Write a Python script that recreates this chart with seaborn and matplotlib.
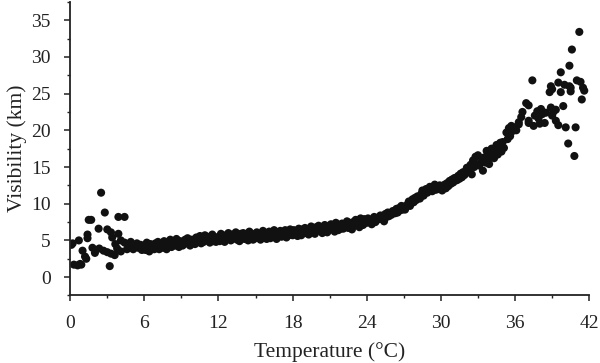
import numpy as np
import pandas as pd
import seaborn as sns
import matplotlib.pyplot as plt
from matplotlib.ticker import MultipleLocator

# %% Data (temperature in °C, visibility in km)

# cold end, scattered points
temp_cold = [0.1, 0.2, 0.3, 0.6, 0.7, 0.8, 0.9, 1.0, 1.2, 1.3, 1.4, 1.4, 1.5, 1.7,
             1.8, 2.0, 2.3, 2.35, 2.5, 2.7, 2.8, 3.0, 3.0, 3.2, 3.3, 3.3, 3.4, 3.6,
             3.65, 3.8, 3.9, 3.9, 4.1, 4.1, 4.4, 4.4, 4.6, 4.7, 4.9, 5.1, 5.2, 5.4,
             5.5, 5.7, 5.8]
vis_cold = [4.4, 4.6, 1.7, 1.6, 5.0, 1.8, 1.7, 3.6, 2.8, 2.5, 5.8, 5.3, 7.8, 7.8,
            4.0, 3.3, 6.6, 3.9, 11.5, 3.6, 8.8, 6.5, 3.4, 1.5, 6.1, 3.2, 5.4, 3.0,
            4.5, 3.9, 5.9, 8.2, 5.0, 3.5, 8.2, 4.7, 3.8, 4.3, 4.8, 3.8, 4.2, 4.6,
            4.0, 4.4, 3.7]

# mild range, slow rise
temp_mild = [6.0, 6.1, 6.2, 6.3, 6.4, 6.5, 6.6, 6.8, 6.9,
             7.0, 7.1, 7.2, 7.4, 7.5, 7.6, 7.7, 7.8, 7.9,
             8.0, 8.1, 8.2, 8.4, 8.5, 8.6, 8.7, 8.8, 8.9,
             9.0, 9.1, 9.3, 9.4, 9.5, 9.6, 9.7, 9.8, 9.9,
             10.0, 10.1, 10.2, 10.4, 10.5, 10.6, 10.7, 10.8, 10.9,
             11.0, 11.1, 11.3, 11.4, 11.5, 11.6, 11.7, 11.8, 11.9,
             12.0, 12.1, 12.2, 12.4, 12.5, 12.6, 12.7, 12.8, 12.9,
             13.0, 13.1, 13.3, 13.4, 13.5, 13.6, 13.7, 13.8, 13.9,
             14.0, 14.1, 14.2, 14.4, 14.5, 14.6, 14.7, 14.8, 14.9,
             15.0, 15.1, 15.3, 15.4, 15.5, 15.6, 15.7, 15.8, 15.9,
             16.0, 16.1, 16.2, 16.4, 16.5, 16.6, 16.7, 16.8, 16.9,
             17.0, 17.1, 17.3, 17.4, 17.5, 17.6, 17.7, 17.8, 17.9,
             18.0, 18.1, 18.2, 18.4, 18.5, 18.6, 18.7, 18.8, 18.9,
             19.0, 19.1, 19.3, 19.4, 19.5, 19.6, 19.7, 19.8, 19.9,
             20.0, 20.1, 20.3, 20.4, 20.5, 20.6, 20.7, 20.8, 20.9,
             21.0, 21.1, 21.3, 21.4, 21.5, 21.6, 21.7, 21.8, 21.9,
             22.0, 22.1, 22.3, 22.4, 22.5, 22.6, 22.7, 22.8, 22.9,
             23.0, 23.1, 23.3, 23.4, 23.5, 23.6, 23.7, 23.8, 23.9]
vis_mild = [4.3, 3.7, 4.7, 4.0, 3.5, 4.5, 4.1, 3.8, 4.6,
            4.2, 4.8, 3.8, 4.4, 4.0, 4.9, 4.3, 3.8, 4.7,
            4.5, 5.1, 4.1, 4.7, 4.3, 5.2, 4.6, 4.1, 4.9,
            4.7, 4.3, 5.1, 4.6, 5.3, 4.8, 4.3, 5.1, 4.7,
            5.1, 4.5, 5.4, 4.9, 5.6, 4.6, 5.2, 4.8, 5.7,
            5.0, 5.5, 4.7, 5.3, 5.8, 4.9, 5.4, 4.8, 5.2,
            5.5, 4.9, 5.9, 5.3, 4.8, 5.7, 5.2, 6.0, 5.4,
            5.0, 5.8, 5.4, 6.1, 5.1, 5.6, 4.9, 5.9, 5.4,
            6.0, 5.2, 5.7, 5.0, 6.2, 5.5, 5.9, 5.1, 5.6,
            5.3, 6.1, 5.6, 5.1, 5.9, 6.3, 5.4, 5.8, 5.2,
            5.7, 6.2, 5.3, 5.9, 6.4, 5.6, 5.2, 6.1, 5.8,
            6.3, 5.5, 5.9, 6.4, 5.4, 6.0, 5.7, 6.5, 5.9,
            5.7, 6.4, 6.0, 5.6, 6.6, 6.1, 5.7, 6.5, 6.0,
            6.7, 6.0, 5.8, 6.4, 6.9, 6.2, 6.6, 5.9, 6.8,
            6.3, 7.0, 6.5, 6.0, 6.8, 7.1, 6.4, 6.1, 6.9,
            6.5, 7.2, 6.7, 6.2, 7.4, 6.8, 6.4, 7.1, 6.6,
            7.3, 6.6, 7.0, 7.6, 6.7, 7.4, 7.0, 6.5, 7.5,
            7.1, 7.8, 7.4, 6.8, 8.0, 7.5, 7.1, 7.9, 7.6]

# warm range, steeper rise
temp_warm = [24.0, 24.1, 24.3, 24.4, 24.5, 24.6, 24.7, 24.8, 24.9,
             25.0, 25.1, 25.3, 25.4, 25.5, 25.6, 25.7, 25.8, 25.9,
             26.0, 26.1, 26.3, 26.4, 26.5, 26.6, 26.7, 26.8, 26.9,
             27.0, 27.1, 27.3, 27.4, 27.5, 27.6, 27.7, 27.8, 27.9,
             28.0, 28.1, 28.3, 28.4, 28.5, 28.6, 28.7, 28.8, 28.9,
             29.0, 29.1, 29.3, 29.4, 29.5, 29.6, 29.7, 29.8, 29.9,
             30.0, 30.1, 30.3, 30.4, 30.5, 30.6, 30.7, 30.8, 30.9,
             31.0, 31.1, 31.3, 31.4, 31.5, 31.6, 31.7, 31.8, 31.9]
vis_warm = [7.4, 8.0, 7.6, 7.2, 7.9, 8.2, 7.5, 7.8, 8.1,
            7.9, 8.4, 8.0, 7.6, 8.6, 8.2, 8.8, 8.3, 8.7,
            8.5, 9.0, 8.7, 9.3, 8.8, 9.4, 9.1, 9.7, 9.2,
            9.6, 9.2, 9.9, 10.3, 9.7, 10.1, 10.6, 10.2, 10.8,
            10.5, 11.0, 10.7, 11.3, 11.8, 11.1, 11.6, 12.0, 11.5,
            11.9, 12.3, 11.7, 12.2, 12.6, 11.9, 12.4, 12.0, 12.5,
            12.2, 11.8, 12.6, 12.1, 12.8, 12.4, 13.1, 12.7, 13.3,
            12.9, 13.5, 13.2, 13.8, 13.4, 14.1, 13.6, 14.3, 13.9]

# hot end, widening spread
temp_hot = [32.0, 32.1, 32.3, 32.4, 32.5, 32.6, 32.7, 32.8, 32.9,
            33.0, 33.1, 33.3, 33.4, 33.5, 33.6, 33.7, 33.8, 33.9,
            34.0, 34.1, 34.3, 34.4, 34.5, 34.6, 34.7, 34.8, 34.9,
            35.0, 35.1, 35.3, 35.4, 35.5, 35.6, 35.7, 35.8, 35.9,
            36.1, 36.3, 36.3, 36.5, 36.6, 36.9, 37.1, 37.1, 37.1, 37.4,
            37.5, 37.6, 37.8, 37.9, 38.0, 38.1, 38.2, 38.4, 38.5, 38.8,
            38.9, 38.9, 39.0, 39.0, 39.1, 39.3, 39.3, 39.5, 39.5, 39.7,
            39.7, 39.9, 40.0, 40.1, 40.3, 40.4, 40.4, 40.5, 40.5, 40.6,
            40.8, 40.9, 41.0, 41.2, 41.3, 41.4, 41.5, 41.6]
vis_hot = [14.2, 14.9, 14.5, 15.3, 14.0, 15.9, 15.0, 16.4, 15.4,
           16.6, 15.2, 15.8, 14.5, 16.3, 15.6, 17.2, 16.0, 15.4,
           16.8, 17.5, 16.2, 17.3, 18.0, 16.7, 17.7, 18.3, 17.1,
           18.4, 17.6, 19.7, 18.8, 20.3, 19.2, 20.6, 19.9, 20.4,
           20.0, 20.8, 21.1, 21.8, 22.5, 23.7, 23.4, 21.0, 21.3, 26.8,
           20.6, 22.0, 22.6, 21.6, 20.9, 22.9, 22.2, 21.0, 22.4, 25.2,
           23.1, 26.0, 22.0, 25.6, 22.5, 21.3, 22.8, 20.7, 26.5, 27.9,
           25.2, 23.3, 26.2, 20.4, 18.2, 28.8, 26.0, 25.8, 25.3, 31.0,
           16.5, 20.4, 26.8, 33.4, 26.6, 24.2, 25.8, 25.4]

df = pd.DataFrame({
    'temp': temp_cold + temp_mild + temp_warm + temp_hot,
    'vis': vis_cold + vis_mild + vis_warm + vis_hot,
})

# %% Plot

sns.set_style('ticks')
plt.rcParams['font.family'] = ['Liberation Serif', 'DejaVu Serif']

fig = plt.figure(figsize=(6, 3.63), dpi=100)
ax = fig.add_axes([0.117, 0.186, 0.865, 0.809])

sns.scatterplot(data=df, x='temp', y='vis', ax=ax, s=34,
                color='#111111', edgecolor='none', linewidth=0)

ax.set_xlim(0, 42)
ax.set_ylim(-2.5, 37.5)
ax.xaxis.set_major_locator(MultipleLocator(6))
ax.xaxis.set_minor_locator(MultipleLocator(3))
ax.yaxis.set_major_locator(MultipleLocator(5))
ax.yaxis.set_minor_locator(MultipleLocator(2.5))
ax.tick_params(which='major', direction='out', length=4, width=1.1,
               labelsize=14, color='#222222', labelcolor='#222222')
ax.tick_params(which='minor', direction='out', length=2.5, width=1.0,
               color='#222222')
ax.tick_params(axis='x', which='major', pad=10)
ax.tick_params(axis='y', which='major', pad=10)
for side in ['left', 'bottom']:
    ax.spines[side].set_linewidth(1.3)
    ax.spines[side].set_color('#222222')
sns.despine(ax=ax)

ax.set_xlabel('Temperature (°C)', fontsize=15.5, color='#222222', labelpad=7)
ax.set_ylabel('Visibility (km)', fontsize=15.5, color='#222222', labelpad=3)

fig.savefig('out.png', dpi=100)
